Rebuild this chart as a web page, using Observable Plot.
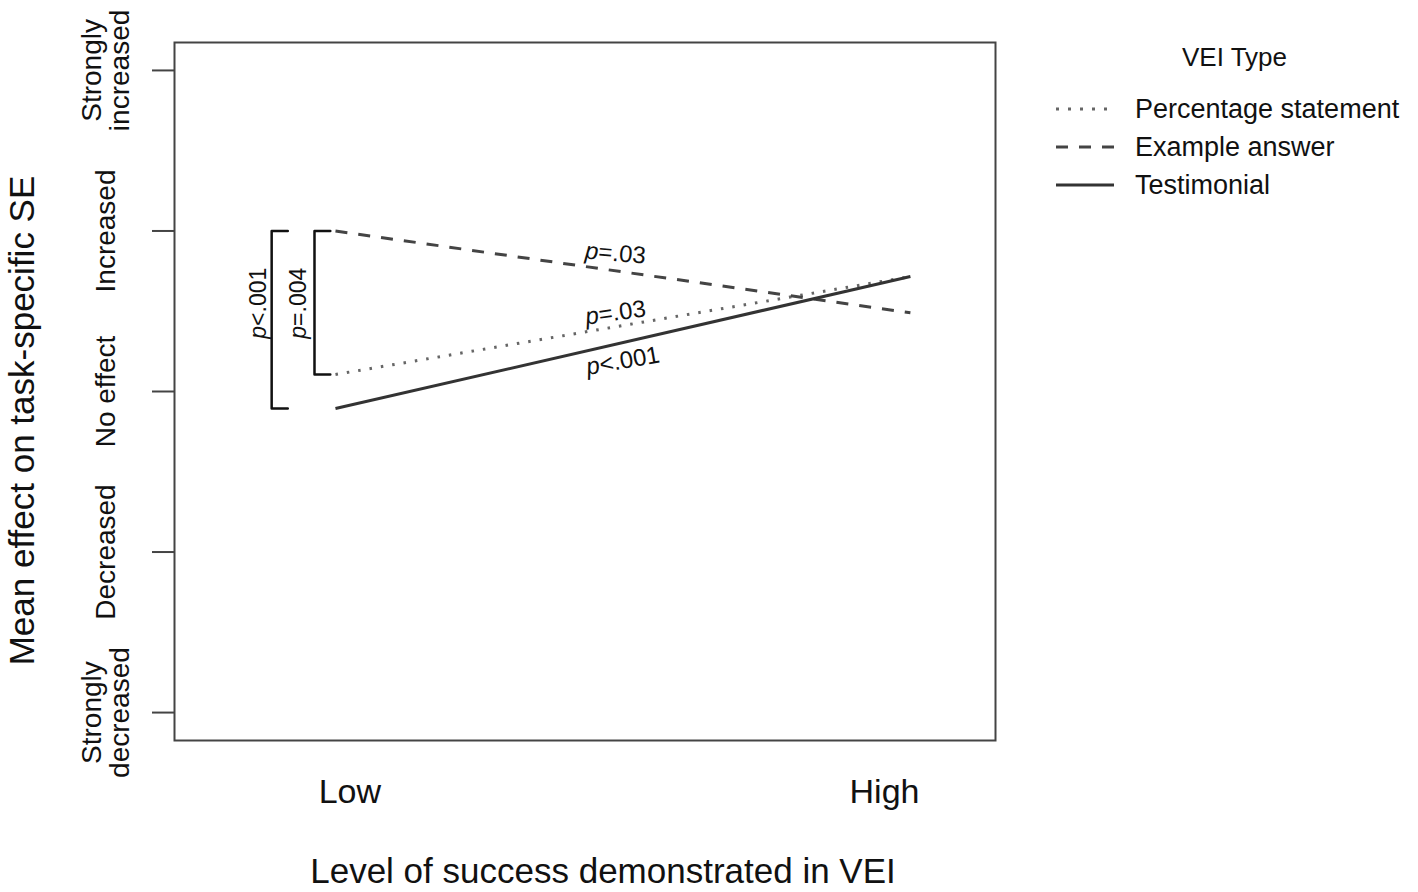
<!DOCTYPE html>
<html>
<head>
<meta charset="utf-8">
<script src="https://cdn.jsdelivr.net/npm/d3@7"></script>
<script src="https://cdn.jsdelivr.net/npm/@observablehq/plot@0.6"></script>
<style>
  html, body { margin: 0; padding: 0; background: #fff; }
  #wrap { position: relative; width: 1418px; height: 892px; font-family: "Liberation Sans", Arial, sans-serif; color: #111; }
  #chart { position: absolute; left: 0; top: 0; }
  #legend { position: absolute; left: 1050px; top: 38px; width: 368px; }
  #legend .title { position: absolute; left: 132px; top: 0; font-size: 26px; line-height: 38px; }
  #legend .row { position: absolute; left: 0; height: 38px; display: flex; align-items: center; font-size: 27px; white-space: nowrap; }
  #legend .row svg { margin-left: 6px; margin-right: 21px; }
</style>
</head>
<body>
<div id="wrap">
  <div id="chart"></div>
  <div id="legend"></div>
</div>
<script>
// ---- data ----
const levels = ["Low", "High"];
const levelX = [0, 1];                      // Low / High position on the x scale
const seriesNames = ["Percentage statement", "Example answer", "Testimonial"];
const percentageValues = [0.106, 0.716];
const exampleValues = [1.0, 0.49];
const testimonialValues = [-0.106, 0.716];
const yTickValues = [2, 1, 0, -1, -2];
const yTickLabels = ["Strongly\nincreased", "Increased", "No effect", "Decreased", "Strongly\ndecreased"];
const xTickValues = [0.025, 0.955];
const xTickLabels = ["Low", "High"];
const lineLabels = ["p=.03", "p=.03", "p<.001"];          // example, percentage, testimonial
const lineLabelX = [0.487, 0.487, 0.5];
const lineLabelY = [0.86, 0.49, 0.19];
const lineLabelAngle = [5, -8, -10];
const bracketLabels = ["p<.001", "p=.004"];
const bracketVX = [-0.111, -0.0365];
const bracketHX = [-0.083, -0.009];
const bracketLabelX = [-0.134, -0.064];
const bracketLabelY = [0.55, 0.55];

// ---- styles per series ----
const styles = {
  "Percentage statement": {stroke: "#666", dash: "2.5,9", width: 3},
  "Example answer": {stroke: "#444", dash: "12,11", width: 3},
  "Testimonial": {stroke: "#333", dash: null, width: 3}
};

const seriesValues = {
  "Percentage statement": percentageValues,
  "Example answer": exampleValues,
  "Testimonial": testimonialValues
};

const rows = seriesNames.flatMap(s => levels.map((lv, i) => ({series: s, level: lv, x: levelX[i], y: seriesValues[s][i]})));

const yTicks = yTickValues.map((v, i) => ({y: v, label: yTickLabels[i]}));
const xTicks = xTickValues.map((v, i) => ({x: v, label: xTickLabels[i]}));

const lineAnn = lineLabels.map((t, i) => ({text: t, x: lineLabelX[i], y: lineLabelY[i], angle: lineLabelAngle[i]}));

// brackets: top = Example answer at Low; bottom = Testimonial / Percentage at Low
const bracketEnds = [[exampleValues[0], testimonialValues[0]], [exampleValues[0], percentageValues[0]]];
const bracketPts = bracketEnds.flatMap(([top, bot], i) => [
  {b: i, x: bracketHX[i], y: top},
  {b: i, x: bracketVX[i], y: top},
  {b: i, x: bracketVX[i], y: bot},
  {b: i, x: bracketHX[i], y: bot}
]);
const bracketAnn = bracketLabels.map((t, i) => ({text: t, x: bracketLabelX[i], y: bracketLabelY[i]}));

const font = "Liberation Sans, Arial, sans-serif";

const seriesMarks = seriesNames.map(s => Plot.line(rows.filter(r => r.series === s), {
  x: "x", y: "y",
  stroke: styles[s].stroke,
  strokeWidth: styles[s].width,
  strokeDasharray: styles[s].dash || undefined,
  strokeLinecap: "butt"
}));

const plot = Plot.plot({
  width: 1030,
  height: 892,
  marginLeft: 174,
  marginRight: 35,
  marginTop: 42,
  marginBottom: 152,
  style: {fontFamily: font, background: "#fff", color: "#111"},
  x: {domain: [-0.28, 1.148], axis: null},
  y: {domain: [-2.174, 2.174]},
  marks: [
    Plot.axisY(yTickValues, {tickSize: 22, tickFormat: () => "", stroke: "#444", strokeWidth: 2, label: null}),
    Plot.frame({stroke: "#444", strokeWidth: 2}),
    ...seriesMarks,
    Plot.line(bracketPts, {x: "x", y: "y", z: "b", stroke: "#111", strokeWidth: 2.5}),
    Plot.text(yTicks, {y: "y", text: "label", frameAnchor: "left", dx: -68, rotate: -90,
      textAnchor: "middle", lineAnchor: "middle", lineHeight: 1.0, fontSize: 28, fill: "#111"}),
    Plot.text(xTicks, {x: "x", text: "label", frameAnchor: "bottom", dy: 52, lineAnchor: "middle",
      fontSize: 34, fill: "#111"}),
    Plot.text(["Mean effect on task-specific SE"], {text: d => d, frameAnchor: "left", dx: -152, dy: 29,
      rotate: -90, textAnchor: "middle", lineAnchor: "middle", fontSize: 35, fill: "#111"}),
    Plot.text(["Level of success demonstrated in VEI"], {text: d => d, frameAnchor: "bottom", dx: 18, dy: 131,
      textAnchor: "middle", lineAnchor: "middle", fontSize: 35, fill: "#111"}),
    Plot.text(lineAnn, {x: "x", y: "y", text: "text", rotate: "angle", fontSize: 24, fill: "#111",
      lineAnchor: "middle", className: "pval"}),
    Plot.text(bracketAnn, {x: "x", y: "y", text: "text", rotate: -90, fontSize: 23, fill: "#111",
      lineAnchor: "middle", className: "pval"})
  ]
});

document.getElementById("chart").appendChild(plot);

// italic "p" in p-value annotations
plot.querySelectorAll("g.pval text").forEach(t => {
  const s = t.textContent;
  if (s.startsWith("p")) {
    t.textContent = "";
    const ns = "http://www.w3.org/2000/svg";
    const a = document.createElementNS(ns, "tspan");
    a.setAttribute("font-style", "italic");
    a.textContent = "p";
    const b = document.createElementNS(ns, "tspan");
    b.textContent = s.slice(1);
    t.appendChild(a);
    t.appendChild(b);
  }
});

// ---- legend ----
const legend = document.getElementById("legend");
const title = document.createElement("div");
title.className = "title";
title.textContent = "VEI Type";
legend.appendChild(title);
seriesNames.forEach((s, i) => {
  const row = document.createElement("div");
  row.className = "row";
  row.style.top = (52 + i * 38) + "px";
  const st = styles[s];
  row.innerHTML = `<svg width="58" height="10"><line x1="0" x2="58" y1="5" y2="5" stroke="${st.stroke}" stroke-width="${st.width}" ${st.dash ? `stroke-dasharray="${s === "Example answer" ? "12,11" : "3,9"}"` : ""}/></svg><span>${s}</span>`;
  legend.appendChild(row);
});
</script>
</body>
</html>
